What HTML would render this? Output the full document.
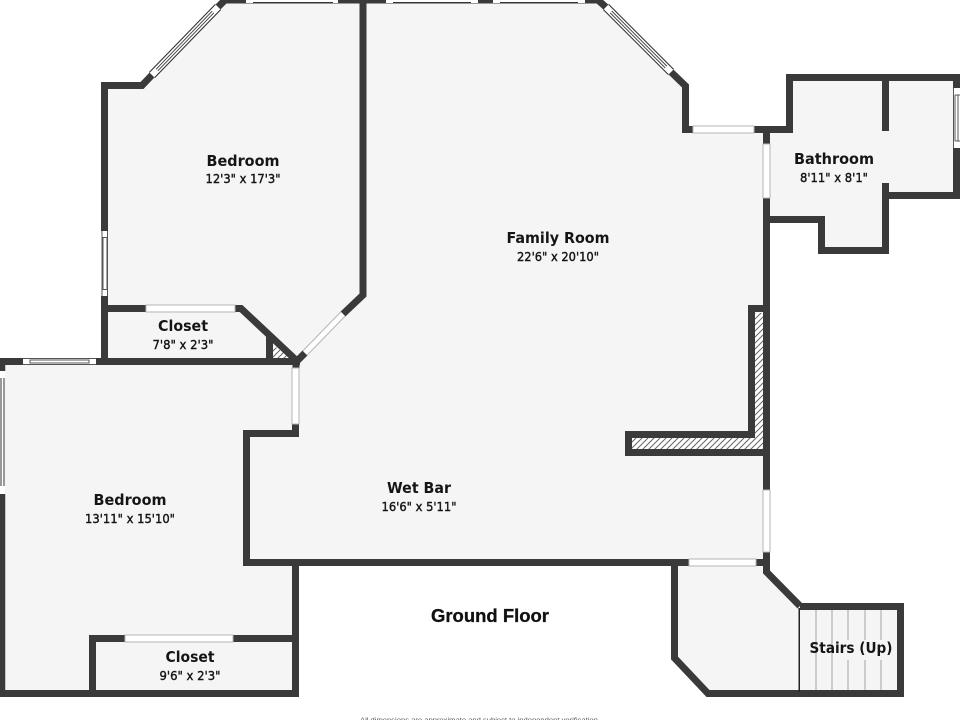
<!DOCTYPE html>
<html><head><meta charset="utf-8"><style>
html,body{margin:0;padding:0;background:#fff;width:960px;height:720px;overflow:hidden}
svg{display:block}
.t{font-family:"DejaVu Sans","Liberation Sans",sans-serif;font-weight:700;font-size:15px;fill:#151515;text-anchor:middle}
.d{font-family:"DejaVu Sans","Liberation Sans",sans-serif;font-weight:400;font-size:12.500px;fill:#151515;stroke:#151515;stroke-width:.4;text-anchor:middle}
</style></head><body>
<svg width="960" height="720" viewBox="0 0 960 720" xmlns="http://www.w3.org/2000/svg">
<defs>
<pattern id="h" width="6" height="6" patternUnits="userSpaceOnUse"><rect width="6" height="6" fill="#fff"/><path d="M-1 7L7 -1M-1 1L1 -1M5 7L7 5" stroke="#666" stroke-width="1"/></pattern>
</defs>
<g fill="#f5f5f5">
<polygon points="104,85 142,85 225,1 363,1 363,295 300,358 296,361 104,361"/>
<polygon points="363,1 598,1 685,85 685,130 766,130 790,130 790,78 956,78 956,195 886,195 886,250 822,250 822,219 766,219 766,562 246,562 246,433 296,433 296,360 363,295"/>
<polygon points="2,361 296,361 296,693 2,693"/>
<polygon points="675,562 766,562 766,572 800,606 900,606 900,693 708,693 675,658"/>
</g>
<polygon points="755,313 763,313 763,449 632,449 632,438 755,438" fill="url(#h)"/>
<polygon points="273,345 273,358 291,358" fill="url(#h)"/>
<g fill="none" stroke="#3a3a3a" stroke-width="7" stroke-linejoin="miter" stroke-linecap="butt">
<path d="M152,75L142,85.500H104.500V361"/>
<path d="M218,7L225,0"/>
<path d="M225,1.500H360" stroke-width="4"/>
<path d="M363,0V295L343,314"/>
<path d="M305,353L296,362"/>
<path d="M363,1.500H598" stroke-width="4"/>
<path d="M598,0L608,9"/>
<path d="M671,72L685.500,86V129.500H693"/>
<path d="M754,129.500H789.500V77.500H960"/>
<path d="M885.500,74V131"/>
<path d="M885.500,183V250.500H821.500V219.500H766"/>
<path d="M956.500,74V88"/>
<path d="M956.500,148V195.500H886"/>
<path d="M766.500,126V144"/>
<path d="M766.500,198V490"/>
<path d="M766.500,552V572L800,606"/>
<path d="M800,606.500H900.500V693.500H708L674.500,658V562"/>
<path d="M243,562.500H689"/>
<path d="M756,562.500H770"/>
<path d="M108,308.500H146"/>
<path d="M235,308.500H241L296,360"/>
<path d="M269.500,336V360"/>
<path d="M0,361.500H23"/>
<path d="M96,361.500H300"/>
<path d="M2.500,358V371" stroke-width="5.500"/>
<path d="M2.500,494V697" stroke-width="5.500"/>
<path d="M295.500,424V433.500H246.500V566"/>
<path d="M295.500,566V697"/>
<path d="M0,693.500H299"/>
<path d="M92.500,693V638.500H125"/>
<path d="M233,638.500H296"/>
<path d="M751.500,438V308.500H766"/>
<path d="M755,434.500H628.500V452.500H770"/>
<path d="M104.500,220V231"/>
<path d="M296,358V368"/>
</g>
<rect x="798.500" y="608" width="1.500" height="84" fill="#222"/>
<g stroke="#b5b5b5" stroke-width="1.300">
<path d="M816,610V690M832,610V690M848,610V640M848,660V690M865,610V640M865,660V690M881,610V640M881,660V690"/>
</g>
<g fill="#fff" stroke="#b5b5b5" stroke-width="1">
<rect x="693" y="126" width="61" height="7"/>
<rect x="763" y="144" width="7" height="54"/>
<rect x="763" y="490" width="7" height="62"/>
<rect x="689" y="559" width="67" height="7"/>
<rect x="146" y="305" width="89" height="7"/>
<rect x="292" y="368" width="7" height="56"/>
<rect x="125" y="635" width="108" height="7"/>
</g>
<g fill="#fff" stroke="none">
<rect x="101" y="231" width="7" height="65"/>
<rect x="23" y="358" width="73" height="7"/>
<rect x="0" y="371" width="5" height="123"/>
<rect x="953" y="88" width="7" height="60"/>
<rect x="246" y="0" width="92" height="3"/>
<rect x="386" y="0" width="92" height="3"/>
<rect x="493" y="0" width="92" height="3"/>
</g>
<g stroke="#555" stroke-width="1" fill="none">
<path d="M103,237.500H107V289.500H103ZM102,231V296M107.500,231V296"/>
<path d="M30,360H89V363H30ZM23,358.500H96M23,364.500H96"/>
<path d="M1,378V486M4,378V486" stroke-width="1.200"/>
<path d="M955,95V141M958,95V141M955,95H960M955,141H960M953.500,88V148"/>
<path d="M253,2.500H333M393,2.500H471M500,2.500H578" stroke="#333"/>
</g>
<g fill="none" stroke-linecap="butt">
<path d="M152,75L218,7" stroke="#333" stroke-width="8.500"/>
<path d="M152,75L218,7" stroke="#fff" stroke-width="6.300"/>
<path d="M157,70L213,12" stroke="#444" stroke-width="3.400"/>
<path d="M157,70L213,12" stroke="#fff" stroke-width="1.400"/>
<path d="M606,7L671,72" stroke="#333" stroke-width="8.500"/>
<path d="M606,7L671,72" stroke="#fff" stroke-width="6.300"/>
<path d="M611,12L666,67" stroke="#444" stroke-width="3.400"/>
<path d="M611,12L666,67" stroke="#fff" stroke-width="1.400"/>
<path d="M343,314L305,353" stroke="#b5b5b5" stroke-width="7"/>
<path d="M343,314L305,353" stroke="#fff" stroke-width="5"/>
</g>
<text class="t" x="243" y="166" textLength="73" lengthAdjust="spacingAndGlyphs">Bedroom</text>
<text class="d" x="243" y="183" textLength="75" lengthAdjust="spacingAndGlyphs">12'3" x 17'3"</text>
<text class="t" x="558" y="243" textLength="103" lengthAdjust="spacingAndGlyphs">Family Room</text>
<text class="d" x="558" y="261" textLength="82" lengthAdjust="spacingAndGlyphs">22'6" x 20'10"</text>
<text class="t" x="834" y="164" textLength="80" lengthAdjust="spacingAndGlyphs">Bathroom</text>
<text class="d" x="834" y="182" textLength="68" lengthAdjust="spacingAndGlyphs">8'11" x 8'1"</text>
<text class="t" x="183" y="331" textLength="50" lengthAdjust="spacingAndGlyphs">Closet</text>
<text class="d" x="183" y="349" textLength="61" lengthAdjust="spacingAndGlyphs">7'8" x 2'3"</text>
<text class="t" x="130" y="505" textLength="73" lengthAdjust="spacingAndGlyphs">Bedroom</text>
<text class="d" x="130" y="523" textLength="90" lengthAdjust="spacingAndGlyphs">13'11" x 15'10"</text>
<text class="t" x="419" y="493" textLength="64" lengthAdjust="spacingAndGlyphs">Wet Bar</text>
<text class="d" x="419" y="511" textLength="75" lengthAdjust="spacingAndGlyphs">16'6" x 5'11"</text>
<text class="t" x="190" y="662" textLength="49" lengthAdjust="spacingAndGlyphs">Closet</text>
<text class="d" x="190" y="680" textLength="61" lengthAdjust="spacingAndGlyphs">9'6" x 2'3"</text>
<text class="t" x="851" y="653" textLength="83" lengthAdjust="spacingAndGlyphs">Stairs (Up)</text>
<text x="490" y="622" text-anchor="middle" font-family="'Liberation Sans',sans-serif" font-weight="700" font-size="18" fill="#111" stroke="#111" stroke-width=".3" textLength="118" lengthAdjust="spacingAndGlyphs">Ground Floor</text>
<text x="480" y="722" text-anchor="middle" font-family="'Liberation Sans',sans-serif" font-size="6.500" fill="#555" textLength="240" lengthAdjust="spacingAndGlyphs">All dimensions are approximate and subject to independent verification.</text>
</svg>
</body></html>
